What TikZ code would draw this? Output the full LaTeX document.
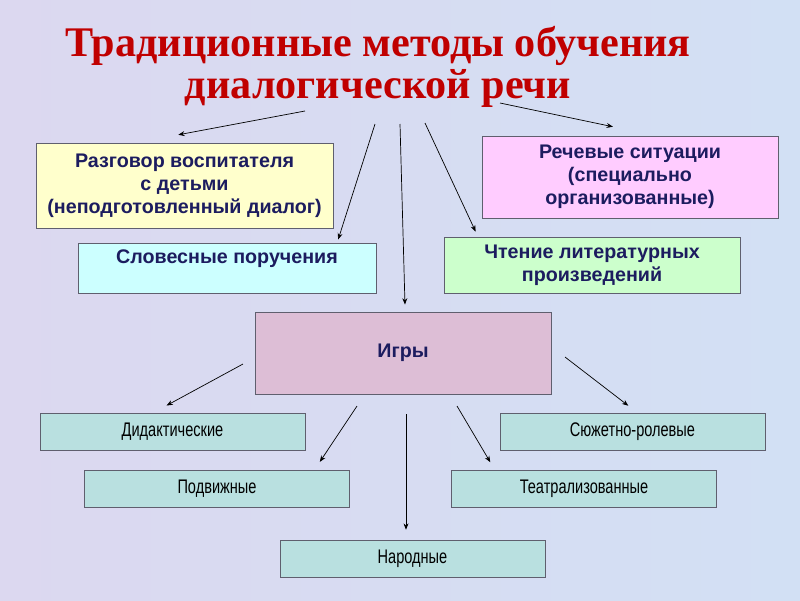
\documentclass[tikz,border=0pt]{standalone}
\usepackage{fontspec}
\setmainfont{Liberation Sans}
\newfontfamily\titlefont{Liberation Serif}
\newfontfamily\narrowfont[FakeStretch=0.74]{Liberation Sans}
\usetikzlibrary{arrows.meta}
\definecolor{titlered}{RGB}{192,0,0}
\definecolor{navy}{RGB}{28,28,95}
\definecolor{boxline}{RGB}{95,95,110}
\definecolor{bgleft}{RGB}{220,216,240}
\definecolor{bgright}{RGB}{210,224,244}
\definecolor{talkfill}{RGB}{255,255,204}
\definecolor{speechfill}{RGB}{255,204,255}
\definecolor{verbalfill}{RGB}{204,255,255}
\definecolor{readfill}{RGB}{204,255,204}
\definecolor{gamefill}{RGB}{221,190,214}
\definecolor{kindfill}{RGB}{185,224,224}
\begin{document}
\begin{tikzpicture}[x=0.025cm,y=-0.025cm,
	box/.style={draw=boxline,line width=0.6pt,align=center,inner sep=0pt,text=navy,font=\bfseries\fontsize{14}{16.3}\selectfont},
	kind/.style={draw=boxline,line width=0.6pt,fill=kindfill,minimum width=6.625cm,minimum height=0.925cm,inner sep=0pt,font=\narrowfont\fontsize{14}{16}\selectfont},
	arr/.style={-{Stealth[length=4.5pt,width=3.5pt]},line width=0.5pt}]
	\shade[left color=bgleft,right color=bgright] (0,0) rectangle (800,600);
	\useasboundingbox (0,0) rectangle (800,600);
	
	\node (title) at (378,67) [align=center,text=titlered,font=\titlefont\bfseries\fontsize{30}{29.5}\selectfont] {Традиционные методы обучения\\диалогической речи};
	
	\node (talk) at (184.5,185.5) [box,fill=talkfill,minimum width=7.425cm,minimum height=2.125cm] {Разговор воспитателя\\с детьми\\(неподготовленный диалог)};
	\node (speech) at (630,177) [box,fill=speechfill,minimum width=7.4cm,minimum height=2.05cm] {Речевые ситуации\\(специально\\организованные)};
	\node (verbal) at (227,268) [box,fill=verbalfill,minimum width=7.45cm,minimum height=1.25cm] {Словесные поручения\\\phantom{X}};
	\node (reading) at (592,265) [box,fill=readfill,minimum width=7.4cm,minimum height=1.4cm] {Чтение литературных\\произведений};
	\node (games) at (403,353) [box,fill=gamefill,minimum width=7.4cm,minimum height=2.05cm] {Игры};
	
	\node (did) at (172.5,431.5) [kind] {Дидактические};
	\node (role) at (632.5,431.5) [kind] {Сюжетно-ролевые};
	\node (mob) at (217,489) [kind] {Подвижные};
	\node (teat) at (584,489) [kind] {Театрализованные};
	\node (folk) at (412.5,558.5) [kind] {Народные};
	
	\coordinate (t1) at (305,111);
	\coordinate (t2) at (500,103);
	\coordinate (t3) at (375,124);
	\coordinate (t4) at (400,124);
	\coordinate (t5) at (425,123);
	\coordinate (g1) at (243,364);
	\coordinate (g2) at (357,406);
	\coordinate (g3) at (406,414);
	\coordinate (g4) at (457,406);
	\coordinate (g5) at (565,357);
	
	\draw [arr,shorten >=30pt] (t1) -- (talk.138);
	\draw [arr,shorten >=30.5pt] (t2) -- (speech.59);
	\draw [arr,shorten >=2.3pt] (t3) -- (verbal.13);
	\draw [arr,shorten >=5pt] (t4) -- (games.87);
	\draw [arr,shorten >=3.9pt] (t5) -- (reading.166);
	
	\draw [arr,shorten >=10.5pt] (g1) -- (did.135);
	\draw [arr,shorten >=7pt] (g2) -- (mob.11);
	\draw [arr,shorten >=7pt] (g3) -- (g3 |- folk.north);
	\draw [arr,shorten >=6.5pt] (g4) -- (teat.168);
	\draw [arr,shorten >=8pt] (g5) -- (role.76);
\end{tikzpicture}
\end{document}
